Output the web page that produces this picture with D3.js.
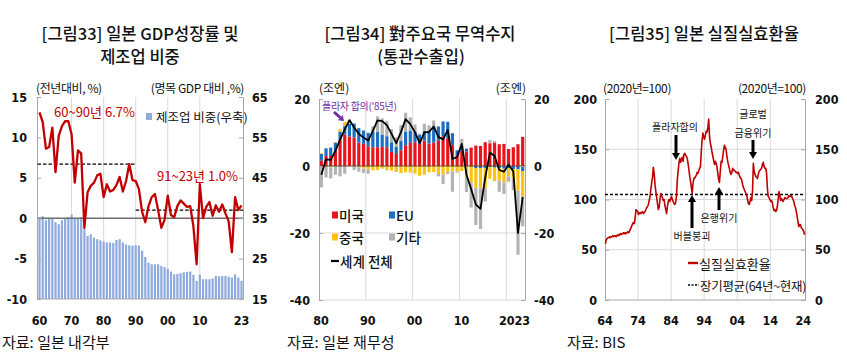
<!DOCTYPE html>
<html><head><meta charset="utf-8">
<script src="https://cdn.jsdelivr.net/npm/d3@7"></script>
<style>
body{margin:0;background:#fff}
svg{display:block}
text{font-family:"Noto Sans CJK KR","Noto Sans",sans-serif;fill:#111}
.num{font-family:"Liberation Sans Narrow","DejaVu Sans Condensed","Arial Narrow","Liberation Sans",sans-serif;font-weight:bold;font-size:12.5px}
</style>
</head><body>
<svg id="c" width="847" height="355"></svg>
<script>
// ---------------- DATA ----------------
// Panel 1: Japan real GDP growth (%) and manufacturing share of nominal GDP (%), 1960-2023
const gdpStartYear = 1960;
const gdpGrowth = [13.1,11.9,8.6,8.8,11.2,5.7,10.2,11.4,12.0,12.0,
  10.4,4.4,8.4,8.0,-1.2,3.2,4.0,4.4,5.3,5.5,
  2.6,4.2,3.3,3.5,4.1,5.1,3.3,4.6,6.7,4.7,
  4.6,3.6,0.8,-0.5,1.5,2.6,3.0,1.0,-1.2,-0.2,
  2.8,0.4,0.1,1.5,2.2,1.8,1.4,1.5,-1.0,-5.7,
  4.2,0.0,1.4,2.0,0.3,1.6,0.8,1.7,0.6,-0.4,
  -4.2,2.6,1.0,1.6];
const mfgShare = [35.2,35.5,34.5,34.8,35.0,34.0,33.5,34.5,35.0,35.3,
  35.9,35.0,35.0,35.3,32.3,30.6,31.0,30.2,29.8,29.5,
  29.2,29.0,29.0,28.9,29.6,29.8,29.0,28.5,28.3,28.2,
  28.3,28.2,27.0,25.4,24.0,23.6,23.6,23.6,23.2,22.9,
  22.5,21.8,21.1,21.2,21.4,21.6,21.7,21.8,21.0,19.5,
  21.0,19.9,19.9,19.9,20.1,20.7,20.6,20.7,20.7,20.5,
  20.3,21.1,20.3,19.5];
const gdpAvg6090 = 6.7, gdpAvg9123 = 1.0;
const p1LeftTicks = [-10,-5,0,5,10,15];
const p1RightTicks = [15,25,35,45,55,65];
const p1XTicks = [1960,1970,1980,1990,2000,2010,2023];
const p1XLabels = ["60","70","80","90","00","10","23"];

// Panel 2: Japan trade balance by partner (trillion yen), 1980-2023
const tradeStartYear = 1980;
const tradeUS = [1.6,3.0,3.0,4.5,7.8,9.4,8.8,8.5,7.0,6.6,
  5.9,5.6,5.6,5.7,5.6,4.2,3.6,4.7,6.2,6.9,
  7.1,6.6,7.6,6.7,7.0,7.7,8.9,8.3,6.3,3.2,
  4.5,4.4,5.5,6.1,6.0,7.1,6.8,7.0,6.5,6.6,
  5.1,5.6,6.5,8.7];
const tradeEU = [2.0,2.3,2.5,2.5,2.5,2.5,3.8,4.2,4.3,4.0,
  4.0,4.7,4.6,3.7,3.3,2.9,2.2,2.9,4.1,3.7,
  3.2,2.8,2.9,3.5,4.1,4.1,4.4,4.9,3.5,1.5,
  1.5,0.8,-0.2,-0.6,-0.6,-0.7,-0.3,-0.5,-0.7,-0.8,
  -0.7,-0.9,-1.0,-1.5];
const tradeCN = [0.2,0.1,-0.4,0.1,0.7,1.3,0.6,-0.1,-0.4,-0.8,
  -1.1,-1.3,-1.2,-0.8,-1.3,-1.4,-1.8,-2.1,-1.9,-2.0,
  -2.3,-2.9,-2.6,-1.9,-1.8,-2.4,-2.6,-1.7,-1.6,-1.7,
  -1.5,-3.3,-4.7,-6.0,-5.9,-6.0,-3.5,-4.0,-3.6,-4.1,
  -2.4,-2.9,-6.3,-7.5];
const tradeOther = [-6.4,-3.4,-3.3,-2.6,-3.1,-2.3,0.5,-1.1,-1.3,-1.3,
  -1.2,1.5,4.6,4.8,4.6,3.9,2.8,4.6,5.6,3.9,
  2.1,0.3,2.1,1.9,2.5,-0.7,-2.8,-0.7,-6.1,-0.3,
  2.1,-4.5,-7.5,-11.0,-12.3,-3.9,1.0,0.5,-3.4,-3.4,
  -1.6,-3.4,-19.2,-9.0];
const tradeWorld = [-2.6,2.0,1.8,4.5,7.9,10.9,13.7,11.5,9.6,8.5,
  7.6,10.5,13.6,13.4,12.2,9.6,6.8,10.1,14.0,12.5,
  10.1,6.8,10.0,10.2,11.8,8.7,7.9,10.8,2.1,2.7,
  6.6,-2.6,-6.9,-11.5,-12.8,-3.5,4.0,3.0,-1.2,-1.7,
  0.4,-1.6,-20.0,-9.3];
const p2Ticks = [-40,-20,0,20];
const p2XTicks = [1980,1990,2000,2010,2020,2023];
const p2XLabels = ["80","90","00","10","20","23"];
const tradeSeriesNames = ["미국","EU","중국","기타"];

// Panel 3: Japan real effective exchange rate (2020=100), quarterly from 1964Q1
const reerStartYear = 1964;
const reerQ = [56,60,61,62, 62,63,62,63, 63,64,63,64, 64,63,64,65, 64,65,66,65,
  66,66,67,66, 67,66,67,68, 67,68,70,72, 74,76,77,76, 82,90,89,88,
  85,86,87,86, 87,88,86,87, 88,90,92,93, 95,99,103,110, 117,122,132,126,
  115,108,102,96, 90,92,100,106, 104,102,99,100, 94,90,86,93, 98,100,98,101,
  103,100,98,96, 95,97,104,120, 128,137,141,137, 140,142,138,145, 146,144,143,141,
  136,130,123,118, 112,106,116,121, 121,123,124,127, 126,129,131,133, 148,159,166,162,
  160,164,168,167, 172,180,162,156, 152,147,143,139, 135,138,136,132, 126,120,117,128,
  138,137,143,149, 154,152,150,143, 138,134,131,127, 125,127,131,129, 129,128,127,127,
  126,127,124,122, 121,119,115,112, 110,108,106,104, 100,96,95,98, 102,99,108,136,
  128,125,123,122, 121,125,128,129, 130,131,135,137, 133,131,131,126, 111,103,102,100,
  98,99,97,92, 89,90,88,89, 93,100,108,104, 99,101,99,98, 100,102,101,101,
  101,102,104,103, 103,104,102,100, 98,94,92,88, 83,78,73,75, 75,72,71,70,
  68,65];
const reerAvg = 105;
const p3Ticks = [0,50,100,150,200];
const p3XTicks = [1964,1974,1984,1994,2004,2014,2024];
const p3XLabels = ["64","74","84","94","04","14","24"];

// ---------------- DRAW ----------------
const svg = d3.select("#c");
const AX = "#a6a6a6", GRID = "#d9d9d9";

function txt(x, y, s, o = {}) {
  const t = svg.append("text").attr("x", x).attr("y", y).text(s)
    .attr("text-anchor", o.anchor || "start")
    .attr("font-size", o.size || 12)
    .attr("dominant-baseline", "central");
  if (o.fill) t.style("fill", o.fill);
  if (o.weight) t.attr("font-weight", o.weight);
  if (o.cls) t.attr("class", o.cls);
  if (o.ls) t.attr("letter-spacing", o.ls);
  return t;
}
function yAxis(scale, x, side, ticks, pad) {
  const ax = (side === "left" ? d3.axisLeft(scale) : d3.axisRight(scale))
    .tickValues(ticks).tickSize(-4).tickSizeOuter(0).tickPadding(pad)
    .tickFormat(d => String(d));
  const g = svg.append("g").attr("transform", `translate(${x},0)`).call(ax);
  g.select(".domain").attr("stroke", AX);
  g.selectAll(".tick line").attr("stroke", AX);
  g.selectAll(".tick text").attr("class", "num").style("fill", "#111");
  return g;
}
function arrow(x1, y1, x2, y2, color, w, hw, hl) {
  const dx = x2 - x1, dy = y2 - y1, L = Math.hypot(dx, dy);
  const ux = dx / L, uy = dy / L;
  const bx = x2 - ux * hl, by = y2 - uy * hl;
  svg.append("line").attr("x1", x1).attr("y1", y1).attr("x2", bx).attr("y2", by)
    .attr("stroke", color).attr("stroke-width", w);
  svg.append("path").attr("d",
    `M${x2},${y2}L${bx - uy * hw},${by + ux * hw}L${bx + uy * hw},${by - ux * hw}Z`)
    .attr("fill", color);
}
const XLY = 320, SRCY = 341, T1 = 33, T2 = 56, TS = 16.5;

// ===== Panel 1 =====
{
  const L = 37, R = 243, T = 97, B = 299;
  const years = gdpGrowth.map((d, i) => gdpStartYear + i);
  const x = d3.scaleLinear().domain([1960, 2023]).range([39.5, 241.5]);
  const yL = d3.scaleLinear().domain([-10, 15]).range([B, T]);
  const yR = d3.scaleLinear().domain([15, 65]).range([B, T]);

  txt(140, T1, "[그림33] 일본 GDP성장률 및", {anchor: "middle", size: TS, weight: 500});
  txt(140, T2, "제조업 비중", {anchor: "middle", size: TS, weight: 500});
  txt(36, 87, "(전년대비, %)", {size: 12, ls: -0.4});
  txt(244, 87, "(명목 GDP 대비 ,%)", {size: 12, anchor: "end", ls: -0.4});

  [1970, 1980, 1990, 2000, 2010].forEach(yr =>
    svg.append("line").attr("x1", x(yr)).attr("x2", x(yr)).attr("y1", T).attr("y2", B)
      .attr("stroke", GRID).attr("stroke-width", 1));

  svg.append("g").selectAll("rect").data(mfgShare).join("rect")
    .attr("x", (d, i) => x(years[i]) - 1.1).attr("width", 2.2)
    .attr("y", d => yR(d)).attr("height", d => yR(15) - yR(d))
    .attr("fill", "#8faadc");

  svg.append("line").attr("x1", L).attr("x2", R).attr("y1", yL(0)).attr("y2", yL(0))
    .attr("stroke", "#6f6f6f").attr("stroke-width", 1.5);
  svg.append("line").attr("x1", L).attr("x2", R).attr("y1", B).attr("y2", B)
    .attr("stroke", AX);

  yAxis(yL, L, "left", p1LeftTicks, 10);
  yAxis(yR, R, "right", p1RightTicks, 9);

  svg.append("line").attr("x1", x(1960) - 2).attr("x2", x(1990))
    .attr("y1", yL(gdpAvg6090)).attr("y2", yL(gdpAvg6090))
    .attr("stroke", "#000").attr("stroke-width", 1.3).attr("stroke-dasharray", "3.5,2");
  svg.append("line").attr("x1", x(1990)).attr("x2", R)
    .attr("y1", yL(gdpAvg9123)).attr("y2", yL(gdpAvg9123))
    .attr("stroke", "#000").attr("stroke-width", 1.3).attr("stroke-dasharray", "3.5,2");

  svg.append("path").datum(gdpGrowth)
    .attr("d", d3.line().x((d, i) => x(years[i])).y(d => yL(d)))
    .attr("fill", "none").attr("stroke", "#c00000").attr("stroke-width", 2.3)
    .attr("stroke-linejoin", "round");

  txt(54, 111, "60~90년 6.7%", {size: 13, fill: "#c00000"});
  txt(157, 175, "91~23년 1.0%", {size: 13, fill: "#c00000"});
  svg.append("rect").attr("x", 146).attr("y", 113).attr("width", 6).attr("height", 7).attr("fill", "#8faadc");
  txt(156, 116, "제조업 비중(우축)", {size: 12.5});

  p1XTicks.forEach((yr, i) => txt(x(yr), XLY, p1XLabels[i], {anchor: "middle", cls: "num"}));
  txt(2, SRCY, "자료: 일본 내각부", {size: 15});
}

// ===== Panel 2 =====
{
  const L = 319, R = 525, T = 99, B = 300;
  const years = tradeWorld.map((d, i) => tradeStartYear + i);
  const x = d3.scaleBand().domain(years).range([L, R]).paddingInner(0.32).paddingOuter(0.16);
  const cell = yr => x(yr) - x.step() * 0.16;
  const y = d3.scaleLinear().domain([-40, 20]).range([B, T]);

  txt(420, T1, "[그림34] 對주요국 무역수지", {anchor: "middle", size: TS, weight: 500});
  txt(421, T2, "(통관수출입)", {anchor: "middle", size: TS, weight: 500});
  txt(319, 87, "(조엔)", {size: 12});
  txt(526, 87, "(조엔)", {size: 12, anchor: "end"});

  [1990, 2000, 2010, 2020].forEach(yr =>
    svg.append("line").attr("x1", cell(yr)).attr("x2", cell(yr)).attr("y1", T).attr("y2", B)
      .attr("stroke", GRID));
  svg.append("line").attr("x1", L).attr("x2", R).attr("y1", y(-20)).attr("y2", y(-20)).attr("stroke", GRID);
  svg.append("line").attr("x1", L).attr("x2", R).attr("y1", B).attr("y2", B).attr("stroke", GRID);

  const table = years.map((yr, i) => ({year: yr, us: tradeUS[i], eu: tradeEU[i], cn: tradeCN[i], ot: tradeOther[i]}));
  const keys = ["us", "eu", "cn", "ot"];
  const colors = {us: "#e8131b", eu: "#1b6fc2", cn: "#ffc20e", ot: "#b3b3b3"};
  const stack = d3.stack().keys(keys).offset(d3.stackOffsetDiverging)(table);
  stack.forEach(s => {
    svg.append("g").selectAll("rect").data(s).join("rect")
      .attr("x", d => x(d.data.year)).attr("width", x.bandwidth())
      .attr("y", d => y(Math.max(d[0], d[1])))
      .attr("height", d => Math.abs(y(d[0]) - y(d[1])))
      .attr("fill", colors[s.key]);
  });

  svg.append("line").attr("x1", L).attr("x2", R).attr("y1", y(0)).attr("y2", y(0))
    .attr("stroke", "#5a4a2a").attr("stroke-width", 1);

  yAxis(y, L, "left", p2Ticks, 9);
  yAxis(y, R, "right", p2Ticks, 9);

  svg.append("path").datum(tradeWorld)
    .attr("d", d3.line().x((d, i) => x(years[i]) + x.bandwidth() / 2).y(d => y(d)))
    .attr("fill", "none").attr("stroke", "#000").attr("stroke-width", 1.8)
    .attr("stroke-linejoin", "round");

  txt(322, 105, "플라자 합의('85년)", {size: 10, fill: "#7030a0", ls: -0.3});
  arrow(334, 112, 344, 121, "#7030a0", 3, 3.5, 5);

  const leg = [[tradeSeriesNames[0], colors.us, 332, 215], [tradeSeriesNames[1], colors.eu, 389, 215],
               [tradeSeriesNames[2], colors.cn, 332, 237], [tradeSeriesNames[3], colors.ot, 389, 237]];
  leg.forEach(([n, c, lx, ly]) => {
    svg.append("rect").attr("x", lx).attr("y", ly - 3.5).attr("width", 6).attr("height", 7).attr("fill", c);
    txt(lx + 7, ly, n, {size: 13.5, weight: 500});
  });
  svg.append("line").attr("x1", 331).attr("x2", 339).attr("y1", 261).attr("y2", 261)
    .attr("stroke", "#000").attr("stroke-width", 2.2);
  txt(340, 261, "세계 전체", {size: 13.5, weight: 500});

  p2XTicks.forEach((yr, i) => txt(cell(yr) + (yr === 2020 ? 0.5 : 2), XLY, p2XLabels[i], {anchor: "middle", cls: "num"}));
  txt(287, SRCY, "자료: 일본 재무성", {size: 15});
}

// ===== Panel 3 =====
{
  const L = 605, R = 805, T = 99, B = 300;
  const x = d3.scaleLinear().domain([1964, 2024.5]).range([L, R]);
  const y = d3.scaleLinear().domain([0, 200]).range([B, T]);

  txt(704, T1, "[그림35] 일본 실질실효환율", {anchor: "middle", size: TS, weight: 500});
  txt(603, 87, "(2020년=100)", {size: 12, ls: -0.4});
  txt(806, 87, "(2020년=100)", {size: 12, anchor: "end", ls: -0.4});

  [1974, 1984, 1994, 2004, 2014].forEach(yr =>
    svg.append("line").attr("x1", x(yr)).attr("x2", x(yr)).attr("y1", T).attr("y2", B).attr("stroke", GRID));
  [50, 100, 150].forEach(v =>
    svg.append("line").attr("x1", L).attr("x2", R).attr("y1", y(v)).attr("y2", y(v)).attr("stroke", GRID));
  svg.append("line").attr("x1", L).attr("x2", R).attr("y1", B).attr("y2", B).attr("stroke", AX);

  yAxis(y, L, "left", p3Ticks, 8);
  yAxis(y, R, "right", p3Ticks, 10);

  svg.append("line").attr("x1", L).attr("x2", R).attr("y1", y(reerAvg)).attr("y2", y(reerAvg))
    .attr("stroke", "#000").attr("stroke-width", 1.3).attr("stroke-dasharray", "3,2");

  svg.append("path").datum(reerQ)
    .attr("d", d3.line().x((d, i) => x(reerStartYear + i / 4 + 0.125)).y(d => y(d)))
    .attr("fill", "none").attr("stroke", "#c00000").attr("stroke-width", 1.6)
    .attr("stroke-linejoin", "round");

  txt(675, 126, "플라자합의", {size: 10, anchor: "middle"});
  arrow(676, 135, 676, 160, "#000", 3, 4, 7);
  txt(692, 235, "버블붕괴", {size: 10, anchor: "middle"});
  arrow(692, 228, 692, 195, "#000", 3, 4, 7);
  txt(719, 217, "은행위기", {size: 10, anchor: "middle"});
  arrow(719, 210, 719, 187, "#000", 3, 4, 7);
  txt(753, 113, "글로벌", {size: 10, anchor: "middle"});
  txt(753, 132, "금융위기", {size: 10, anchor: "middle"});
  arrow(753, 140, 753, 159, "#000", 3, 4, 7);

  svg.append("line").attr("x1", 688).attr("x2", 698).attr("y1", 263).attr("y2", 263)
    .attr("stroke", "#c00000").attr("stroke-width", 2.4);
  txt(699, 263, "실질실효환율", {size: 13});
  svg.append("line").attr("x1", 688).attr("x2", 699).attr("y1", 285).attr("y2", 285)
    .attr("stroke", "#000").attr("stroke-width", 1.3).attr("stroke-dasharray", "2,1.5");
  txt(700, 285, "장기평균(64년~현재)", {size: 12.5, ls: -0.3});

  p3XTicks.forEach((yr, i) => txt(x(yr), XLY, p3XLabels[i], {anchor: "middle", cls: "num"}));
  txt(567, SRCY, "자료: BIS", {size: 15});
}
</script>
</body></html>
